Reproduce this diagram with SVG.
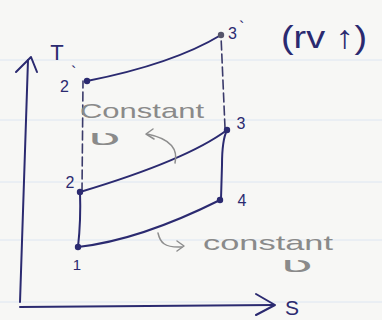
<svg xmlns="http://www.w3.org/2000/svg" width="382" height="320" viewBox="0 0 382 320">
<style>
.ink{fill:none;stroke:#2b2a70;stroke-width:2;stroke-linecap:round;stroke-linejoin:round}
.dash{fill:none;stroke:#3a3a6a;stroke-width:1.6;stroke-dasharray:9 4;stroke-linecap:round}
.pencil{fill:none;stroke:#8e8e8e;stroke-width:1.5;stroke-linecap:round;stroke-linejoin:round}
.dot{fill:#2b2a70}
.lbl{font-family:"Liberation Sans",Arial,sans-serif;font-size:16px;fill:#2b2a70}
.big{font-family:"Liberation Sans",Arial,sans-serif;fill:#2b2a70}
.gtxt{font-family:"Liberation Sans",Arial,sans-serif;fill:#8a8a8a}
.nu{font-family:"DejaVu Sans ExtraLight","DejaVu Sans",sans-serif;fill:#8a8a8a}
.rule{stroke:#dde6f2;stroke-width:1}
</style>
<rect width="382" height="320" fill="#f7f7f5"/>
<g id="paper">
<line class="rule" x1="0" y1="60" x2="382" y2="60"/>
<line class="rule" x1="0" y1="120" x2="382" y2="120"/>
<line class="rule" x1="0" y1="182" x2="382" y2="182"/>
<line class="rule" x1="0" y1="240" x2="382" y2="240"/>
<line class="rule" x1="0" y1="302" x2="382" y2="302"/>
</g>
<g id="axes">
<path class="ink" d="M20,302 L28,60"/>
<path class="ink" d="M16,72 L31,57 L37,72"/>
<path class="ink" d="M20,307 L274,305"/>
<path class="ink" d="M256,294 L275,305 L256,315"/>
<text class="big" x="57" y="60" font-size="22" text-anchor="middle">T</text>
<text class="big" x="292" y="315" font-size="21" text-anchor="middle">S</text>
</g>
<g id="connectors">
<path class="ink" d="M87,81 Q173,64 221,35"/>
<path class="ink" d="M80,192 Q187,160 227,130"/>
<path class="ink" d="M78,247 Q140,240 220,200"/>
<path class="ink" d="M78,247 Q81,220 80,192"/>
<path class="ink" d="M227,130 Q222,140 222,165 L221,199"/>
<path class="dash" d="M82,192 L83,81"/>
<path class="dash" d="M225,128 L221,36"/>
</g>
<g id="node-1"><circle class="dot" cx="78" cy="247" r="3.2"/><text class="big" x="77" y="270" text-anchor="middle" font-size="15">1</text></g>
<g id="node-2"><circle class="dot" cx="80" cy="192" r="3.2"/><text class="lbl" x="70" y="188" text-anchor="middle">2</text></g>
<g id="node-3"><circle class="dot" cx="227" cy="130" r="3.2"/><text class="lbl" x="241" y="129" text-anchor="middle">3</text></g>
<g id="node-4"><circle class="dot" cx="220" cy="200" r="3.2"/><text class="lbl" x="242" y="206" text-anchor="middle">4</text></g>
<g id="node-2p"><circle class="dot" cx="87" cy="81" r="3.2"/><text class="lbl" x="60" y="92">2<tspan dx="2" dy="-14">`</tspan></text></g>
<g id="node-3p"><circle cx="221" cy="35" r="3.2" fill="#55556a"/><text class="lbl" x="228" y="39">3<tspan dx="2" dy="-6">`</tspan></text></g>
<g id="note-rv"><text class="big" x="281" y="48" font-size="32" textLength="86" lengthAdjust="spacingAndGlyphs">(rv ↑)</text></g>
<g id="annot-top">
<text class="gtxt" x="80" y="118" font-size="21" textLength="124" lengthAdjust="spacingAndGlyphs">Constant</text>
<text class="nu" x="87" y="145" font-size="22" textLength="34" lengthAdjust="spacingAndGlyphs">ʋ</text>
<path class="pencil" d="M175,163 C178,150 172,139 147,134"/>
<path class="pencil" d="M153,129 L146,134 L154,139"/>
</g>
<g id="annot-bottom">
<text class="gtxt" x="203" y="250" font-size="21" textLength="130" lengthAdjust="spacingAndGlyphs">constant</text>
<text class="nu" x="280" y="272" font-size="22" textLength="33" lengthAdjust="spacingAndGlyphs">ʋ</text>
<path class="pencil" d="M158,233 C160,242 164,248 182,247"/>
<path class="pencil" d="M177,241 L184,246 L177,251"/>
</g>
</svg>
